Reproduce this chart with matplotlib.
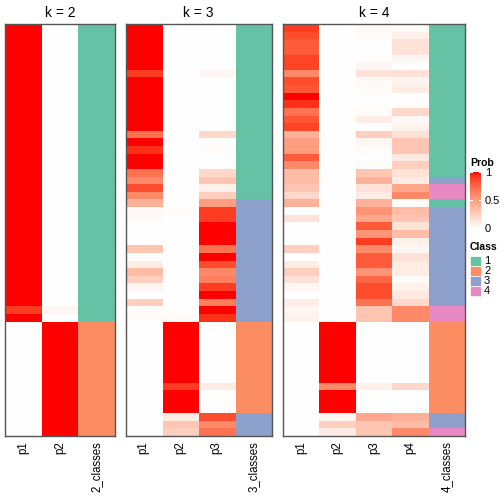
import numpy as np
import matplotlib
matplotlib.use("Agg")
import matplotlib.pyplot as plt
from matplotlib.colors import ListedColormap, to_rgb
from matplotlib.patches import Rectangle

plt.rcParams["font.family"] = ["Liberation Sans", "DejaVu Sans"]

# membership probabilities per sample (rows share the same order in all panels)
k2_p1 = [1.0]*37 + [0.9, 1.0] + [0.0]*15
k2_p2 = [0.0]*37 + [0.05, 0.0] + [1.0]*15
k2_class = [1]*39 + [2]*15

k3_p1 = [1, 1, 1, 1, 1, 1, 0.9, 1, 1, 1, 1, 1, 1, 1, 0.7, 1, 0.93, 1, 1, 0.7,
         0.6, 0.85, 0.6, 0.4, 0.03, 0.03, 0, 0, 0, 0.3, 0, 0.1, 0.35, 0.25, 0.05, 0, 0.25, 0,
         0.02, 0, 0, 0, 0, 0, 0, 0, 0, 0, 0, 0, 0, 0, 0, 0]
k3_p2 = [0]*24 + [0.02] + [0]*13 + [0.02] + [1]*8 + [0.9, 1, 1, 1, 0.1, 0.3, 0.25]
k3_p3 = [0, 0, 0, 0, 0, 0, 0.05, 0, 0, 0, 0, 0, 0, 0, 0.2, 0, 0.02, 0, 0, 0.2,
         0.3, 0.08, 0.25, 0.5, 0.9, 0.9, 1, 1, 1, 0.7, 1, 0.85, 0.6, 0.65, 0.9, 1, 0.65, 1,
         0.93, 0, 0, 0, 0, 0, 0, 0, 0, 0.1, 0, 0, 0, 0.85, 0.6, 0.7]
k3_class = [1]*23 + [3]*16 + [2]*12 + [3]*3

k4_p1 = [0.9, 0.85, 0.8, 0.8, 0.88, 0.88, 0.6, 0.85, 0.82, 1.0, 0.93, 0.7, 0.82, 0.88,
         0.4, 0.5, 0.5, 0.8, 0.6, 0.35, 0.35, 0.3, 0.2, 0.4, 0, 0.15, 0, 0, 0, 0.25,
         0, 0.1, 0.25, 0.15, 0.05, 0, 0.1, 0.05, 0.07] + [0]*15
k4_p2 = [0]*39 + [1]*8 + [0.6, 1, 1, 1, 0.04, 0.25, 0.1]
k4_p3 = [0.03, 0.02, 0, 0, 0, 0.05, 0.15, 0.03, 0.02, 0, 0, 0.02, 0.1, 0,
         0.25, 0.05, 0.02, 0, 0.02, 0.3, 0.4, 0.15, 0.1, 0.4, 0.55, 0.45, 0.8, 0.55, 0.9, 0.6,
         0.8, 0.8, 0.55, 0.75, 0.85, 0.85, 0.7, 0.3, 0.3] + [0]*8 + [0.08, 0, 0, 0, 0.45, 0.3, 0.3]
k4_p4 = [0.02, 0.08, 0.15, 0.15, 0.05, 0, 0.15, 0.06, 0.1, 0, 0.02, 0.2, 0.03, 0.07,
         0.15, 0.3, 0.3, 0.12, 0.25, 0.15, 0.1, 0.45, 0.6, 0.02, 0.35, 0.3, 0.15, 0.35, 0.08, 0.05,
         0.15, 0.1, 0.1, 0.02, 0.08, 0.12, 0.2, 0.6, 0.6] + [0]*8 + [0.2, 0, 0, 0, 0.4, 0.35, 0.6]
k4_class = [1]*20 + [3, 4, 4, 1] + [3]*13 + [4, 4] + [2]*12 + [3, 3, 4]

class_colors = {1: "#66C2A5", 2: "#FC8D62", 3: "#8DA0CB", 4: "#E78AC3"}


# white -> red ramp interpolated in Lab space
M = np.array([[0.4124, 0.3576, 0.1805], [0.2126, 0.7152, 0.0722], [0.0193, 0.1192, 0.9505]])
WHITE = np.array([0.95047, 1.0, 1.08883])

def to_lab(rgb):
    c = np.array(rgb, dtype=float)
    lin = np.where(c <= 0.04045, c / 12.92, ((c + 0.055) / 1.055) ** 2.4)
    xyz = M @ lin / WHITE
    f = np.where(xyz > 0.008856, np.cbrt(xyz), 7.787 * xyz + 16 / 116)
    return np.array([116 * f[1] - 16, 500 * (f[0] - f[1]), 200 * (f[1] - f[2])])

def from_lab(lab):
    fy = (lab[0] + 16) / 116
    f = np.array([fy + lab[1] / 500, fy, fy - lab[2] / 200])
    xyz = np.where(f ** 3 > 0.008856, f ** 3, (f - 16 / 116) / 7.787) * WHITE
    lin = np.clip(np.linalg.solve(M, xyz), 0, 1)
    c = np.where(lin > 0.0031308, 1.055 * lin ** (1 / 2.4) - 0.055, 12.92 * lin)
    return np.clip(c, 0, 1)

lab0, lab1 = to_lab((1, 1, 1)), to_lab((1, 0, 0))
cmap = ListedColormap([from_lab(lab0 + t * (lab1 - lab0)) for t in np.linspace(0, 1, 256)])

W = 504
fig = plt.figure(figsize=(5.04, 5.04), dpi=100)
top, bottom = 24.3, 435.7

panels = [
    ("k = 2", [k2_p1, k2_p2], k2_class, 5, 110),
    ("k = 3", [k3_p1, k3_p2, k3_p3], k3_class, 125.5, 146),
    ("k = 4", [k4_p1, k4_p2, k4_p3, k4_p4], k4_class, 283, 182),
]

for title, probs, classes, x0, w in panels:
    ax = fig.add_axes([x0 / W, 1 - bottom / W, w / W, (bottom - top) / W])
    n = len(probs)
    rgb = np.zeros((len(classes), n + 1, 3))
    for j, p in enumerate(probs):
        rgb[:, j, :] = cmap(np.array(p, dtype=float))[:, :3]
    rgb[:, n, :] = [to_rgb(class_colors[c]) for c in classes]
    ax.imshow(rgb, aspect="auto", interpolation="nearest")
    ax.set_xticks(range(n + 1))
    ax.set_xticklabels(["p%d" % (j + 1) for j in range(n)] + ["%d_classes" % n],
                       rotation=90, fontsize=8.3)
    ax.tick_params(axis="x", length=0, pad=4)
    ax.set_yticks([])
    for s in ax.spines.values():
        s.set_color("#555555")
        s.set_linewidth(1)
    ax.set_title(title, fontsize=10, pad=5)

# legends
fig.text(470 / W, 1 - 163 / W, "Prob", fontsize=7.5, fontweight="bold", va="center")
cax = fig.add_axes([470 / W, 1 - 229 / W, 11 / W, 57 / W])
cax.imshow(np.linspace(1, 0, 100).reshape(-1, 1), cmap=cmap, aspect="auto",
           vmin=0, vmax=1, extent=[0, 1, 0, 1])
for v in [0.5, 1.0]:
    cax.plot([0, 0.2], [v, v], color="white", lw=0.8)
    cax.plot([0.8, 1], [v, v], color="white", lw=0.8)
cax.set_xlim(0, 1)
cax.set_ylim(0, 1)
cax.axis("off")
for v, lab in [(1, "1"), (0.5, "0.5"), (0, "0")]:
    fig.text(485 / W, 1 - (229 - 56 * v) / W, lab, fontsize=8, va="center")

fig.text(470 / W, 1 - 247 / W, "Class", fontsize=7.5, fontweight="bold", va="center")
for i, c in enumerate([1, 2, 3, 4]):
    y = 256 + 10 * i
    fig.patches.append(Rectangle((470 / W, 1 - (y + 10) / W), 11 / W, 10 / W,
                                 transform=fig.transFigure, facecolor=class_colors[c],
                                 edgecolor="white", lw=0.5))
    fig.text(484 / W, 1 - (y + 5) / W, str(c), fontsize=8, va="center")

fig.savefig("out.png", dpi=100)
